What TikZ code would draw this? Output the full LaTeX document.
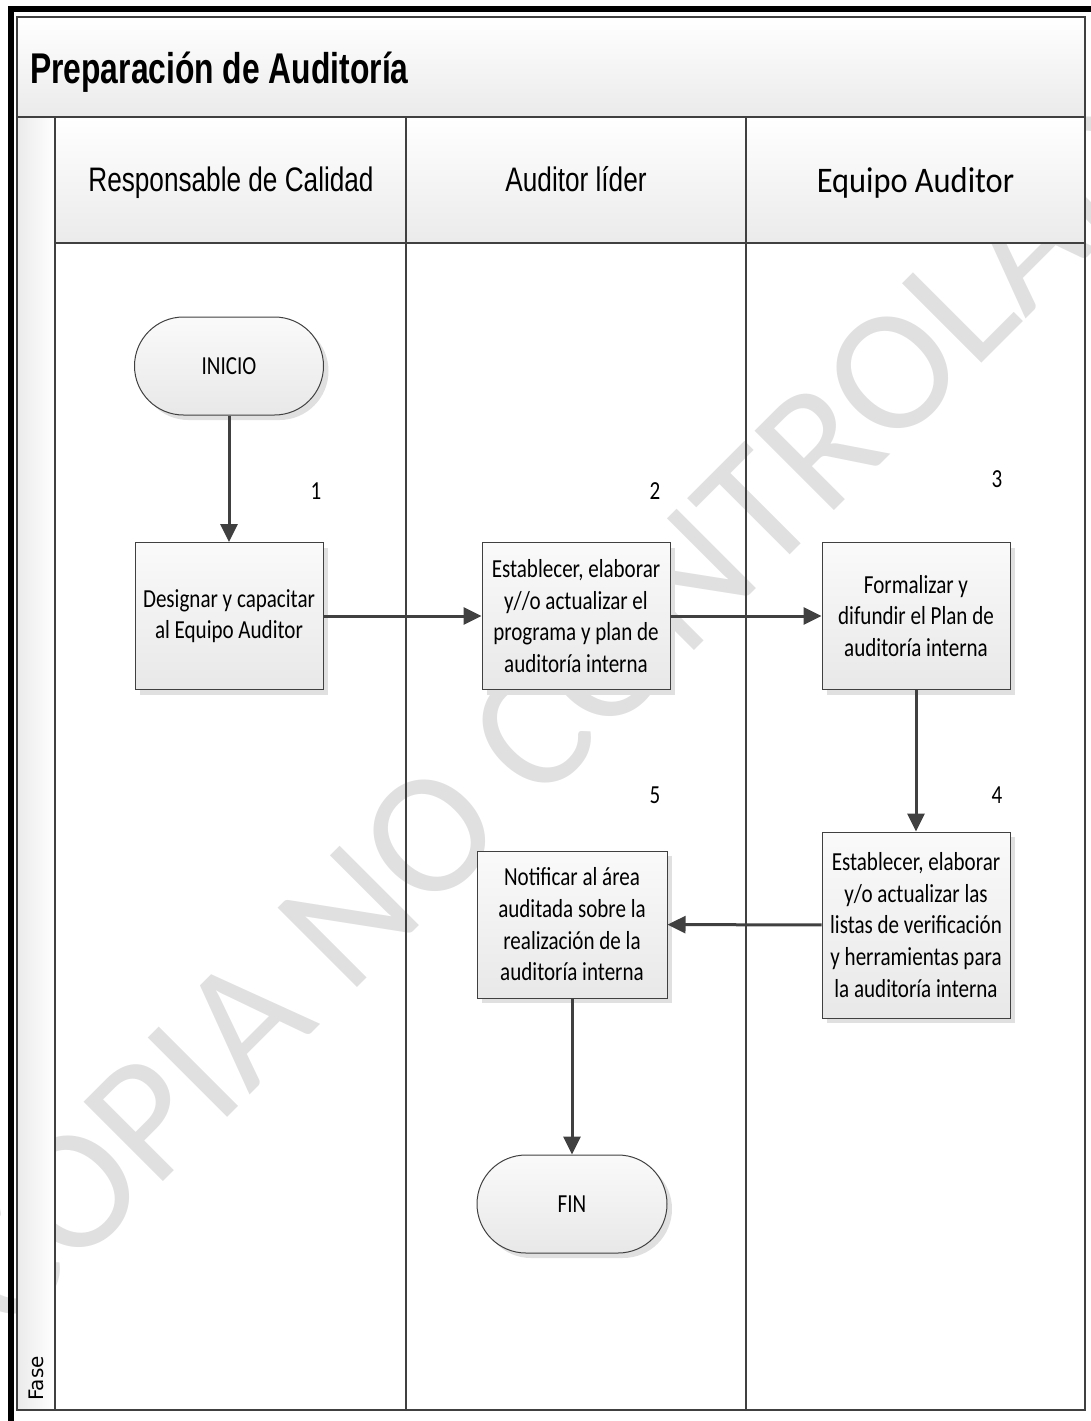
\documentclass[tikz,border=0pt]{standalone}
\usepackage{fontspec}
\setmainfont{Carlito}
\newfontfamily\boxfont[FakeStretch=0.81]{Carlito}
\newfontfamily\eqfont[FakeStretch=0.9]{Carlito}
\newfontfamily\hdrfont[FakeStretch=0.77]{Liberation Sans}
\newfontfamily\titlefont[FakeStretch=0.74]{Liberation Sans}
\newfontfamily\fasefont{DejaVu Sans}
\usetikzlibrary{arrows.meta,shadows}
\definecolor{ln}{HTML}{404040}
\definecolor{wm}{HTML}{E0E0E0}
\begin{document}
\begin{tikzpicture}[x=1pt,y=-1pt,
  frame/.style={draw=ln,line width=2pt},
  band/.style={top color=white,bottom color=black!8},
  procbox/.style={draw=ln,line width=1pt,top color=black!2,bottom color=black!9,
    minimum width=188pt,minimum height=147pt,inner sep=1pt,align=center,
    font=\boxfont\fontsize{26}{31.7}\selectfont,
    drop shadow={shadow xshift=5pt,shadow yshift=-5pt,fill=black!12,opacity=1}},
  term/.style={procbox,rounded corners=49pt,minimum height=98pt,minimum width=189pt},
  flow/.style={draw=ln,line width=3pt,-{Triangle[length=18pt,width=17pt]}},
  num/.style={font=\boxfont\fontsize{26}{31}\selectfont,inner sep=0pt},
  hdr/.style={font=\hdrfont\fontsize{34}{40}\selectfont,inner sep=0pt,anchor=base}]
\useasboundingbox (0,0) rectangle (1091,1421);
% watermark
\begin{scope}
\clip (0,0) rectangle (1091,1421);
\node[rotate=45,anchor=base west,inner sep=0pt,text=wm,font=\fontsize{175}{175}\selectfont] (wmk) at (7,1338) {COPIA NO CONTROLADA};
\end{scope}
% outer black border
\draw[line width=6pt] (11,1421) -- (11,9) -- (1091,9);
% title band
\path[band] (17,17) rectangle (1085,117);
\node[anchor=base west,inner sep=0pt,font=\titlefont\bfseries\fontsize{43}{50}\selectfont] (title) at (30,83) {Preparación de Auditoría};
% headers
\path[band] (55,117) rectangle (1085,243);
\path[left color=black!8,right color=white] (17,117) rectangle (55,1410);
\node[hdr] (h1) at (231,191) {Responsable de Calidad};
\node[hdr] (h2) at (576,191) {Auditor líder};
\node[inner sep=0pt,anchor=base,font=\eqfont\fontsize{36}{42}\selectfont] (h3) at (915.5,192) {Equipo Auditor};
\node[rotate=90,anchor=west,inner sep=0pt,font=\fasefont\fontsize{20}{24}\selectfont] (fase) at (36,1401) {Fase};
% grid lines
\draw[frame] (17,117) -- (1085,117);
\draw[frame] (55,243) -- (1085,243);
\draw[frame] (55,117) -- (55,1410);
\draw[frame] (406,117) -- (406,1410);
\draw[frame] (746,117) -- (746,1410);
\draw[frame] (17,17) rectangle (1085,1410);
% shapes
\node[term] (ini) at (229,366) {INICIO};
\node[procbox] (b1) at (229,616) {Designar y capacitar\\al Equipo Auditor};
\node[procbox] (b2) at (576,616) {Establecer, elaborar\\y//o actualizar el\\programa y plan de\\auditoría interna};
\node[procbox] (b3) at (916,616) {Formalizar y\\difundir el Plan de\\auditoría interna};
\node[procbox,minimum height=186pt] (b4) at (916,925) {Establecer, elaborar\\y/o actualizar las\\listas de verificación\\y herramientas para\\la auditoría interna};
\node[procbox,minimum width=190pt] (b5) at (572,924.5) {Notificar al área\\auditada sobre la\\realización de la\\auditoría interna};
\node[term,minimum width=190pt] (fin) at (572,1204) {FIN};
% numbers
\node[num] (n1) at (316,491) {1};
\node[num] (n2) at (655,491) {2};
\node[num] (n3) at (997,479) {3};
\node[num] (n4) at (997,795) {4};
\node[num] (n5) at (655,795) {5};
% connectors
\draw[flow] (ini) -- (b1);
\draw[flow] (b1) -- (b2);
\draw[flow] (b2) -- (b3);
\draw[flow] (b3) -- (b4);
\draw[flow] (b4) -- (b5);
\draw[flow] (b5) -- (fin);
\end{tikzpicture}
\end{document}
